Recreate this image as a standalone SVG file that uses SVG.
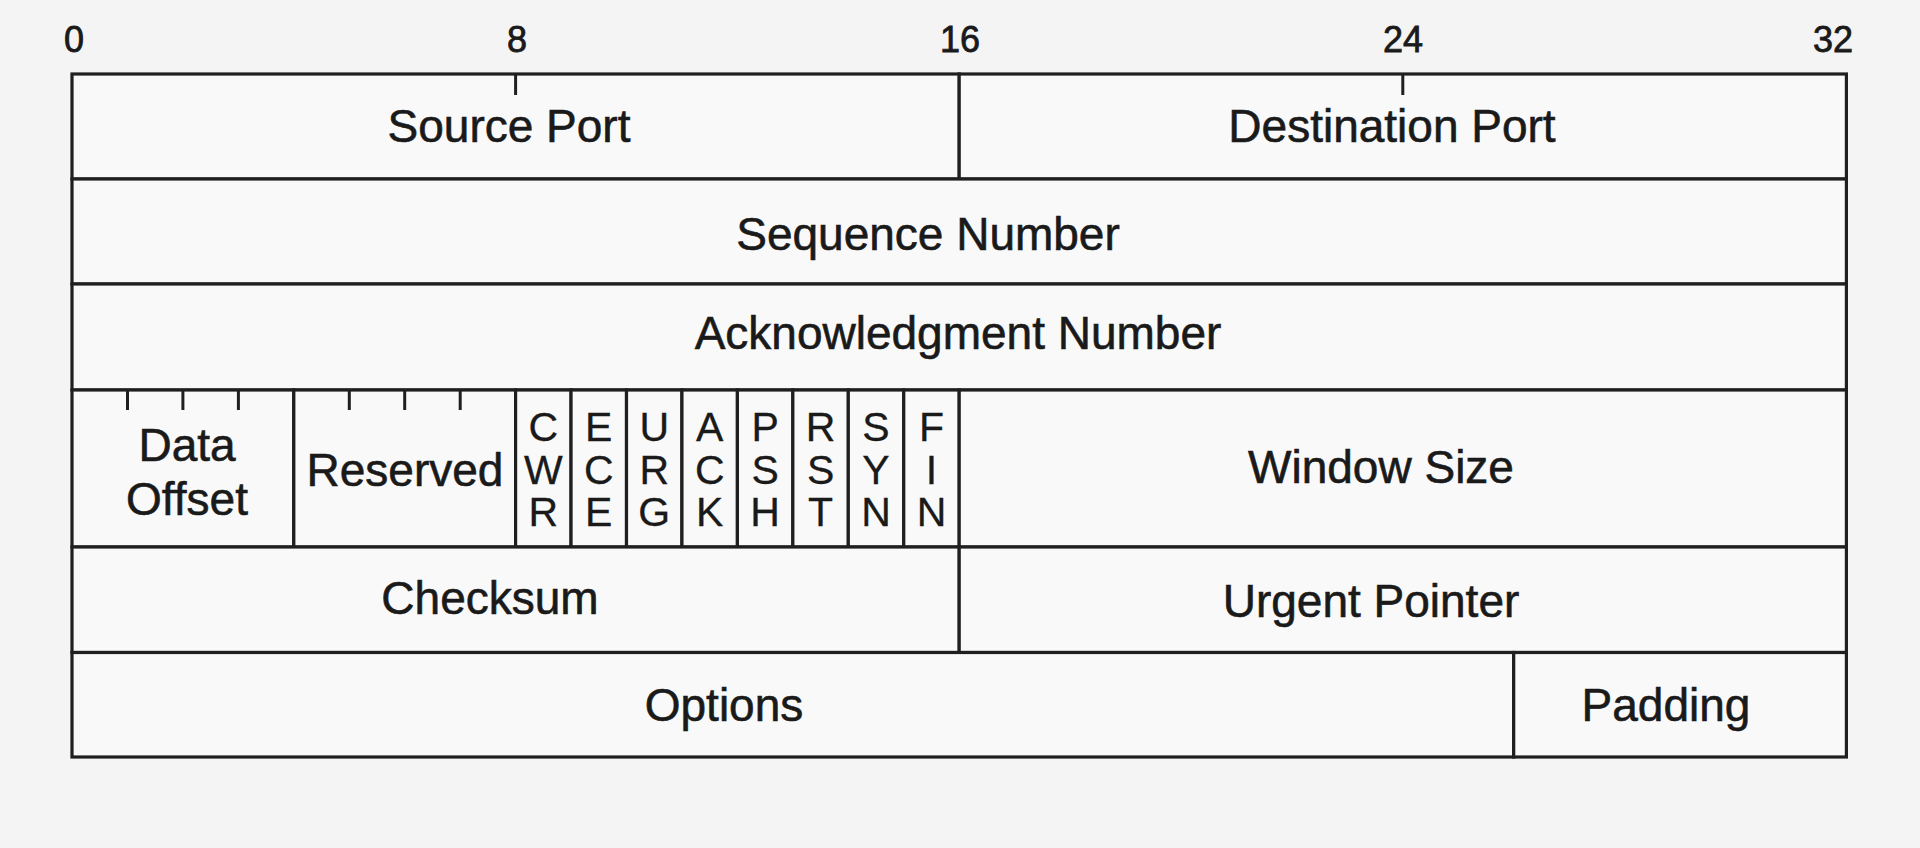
<svg xmlns="http://www.w3.org/2000/svg" width="1920" height="848" viewBox="0 0 1920 848">
  <style>
    .tk { stroke: #1f1f1f; stroke-width: 3; fill: none; }
    .cell { fill: #f9f9f9; stroke: #1f1f1f; stroke-width: 3.2; }
    .t { font-family: "Liberation Sans", Arial, sans-serif; font-size: 46px; fill: #1a1a1a; stroke: #1a1a1a; stroke-width: 0.6; text-anchor: middle; }
    .f { font-family: "Liberation Sans", Arial, sans-serif; font-size: 41px; fill: #1a1a1a; stroke: #1a1a1a; stroke-width: 0.3; text-anchor: middle; }
    .n { font-family: "Liberation Sans", Arial, sans-serif; font-size: 36px; fill: #1a1a1a; stroke: #1a1a1a; stroke-width: 0.8; text-anchor: middle; }
  </style>
  <rect x="0" y="0" width="1920" height="848" fill="#f4f4f4"/>

  <g id="bit-scale">
    <text class="n" x="74" y="52">0</text>
    <text class="n" x="517" y="52">8</text>
    <text class="n" x="960" y="52">16</text>
    <text class="n" x="1403" y="52">24</text>
    <text class="n" x="1833" y="52">32</text>
  </g>

  <g id="source-port">
    <rect class="cell" x="72" y="74" width="887.2" height="105"/>
    <text class="t" x="509" y="142">Source Port</text>
  </g>
  <g id="destination-port">
    <rect class="cell" x="959.2" y="74" width="887.2" height="105"/>
    <text class="t" x="1392" y="142">Destination Port</text>
  </g>
  <g id="sequence-number">
    <rect class="cell" x="72" y="179" width="1774.4" height="105"/>
    <text class="t" x="928" y="250">Sequence Number</text>
  </g>
  <g id="acknowledgment-number">
    <rect class="cell" x="72" y="284" width="1774.4" height="106"/>
    <text class="t" x="958" y="349">Acknowledgment Number</text>
  </g>
  <g id="data-offset">
    <rect class="cell" x="72" y="390" width="221.8" height="157"/>
    <text class="t" x="187" y="461"><tspan x="187" y="461">Data</tspan><tspan x="187" y="515">Offset</tspan></text>
  </g>
  <g id="reserved">
    <rect class="cell" x="293.8" y="390" width="221.8" height="157"/>
    <text class="t" x="405" y="486">Reserved</text>
  </g>
  <g id="flag-cwr">
    <rect class="cell" x="515.6" y="390" width="55.45" height="157"/>
    <text class="f"><tspan x="543.3" y="441">C</tspan><tspan x="543.3" y="484">W</tspan><tspan x="543.3" y="526">R</tspan></text>
  </g>
  <g id="flag-ece">
    <rect class="cell" x="571.05" y="390" width="55.45" height="157"/>
    <text class="f"><tspan x="598.8" y="441">E</tspan><tspan x="598.8" y="484">C</tspan><tspan x="598.8" y="526">E</tspan></text>
  </g>
  <g id="flag-urg">
    <rect class="cell" x="626.5" y="390" width="55.45" height="157"/>
    <text class="f"><tspan x="654.2" y="441">U</tspan><tspan x="654.2" y="484">R</tspan><tspan x="654.2" y="526">G</tspan></text>
  </g>
  <g id="flag-ack">
    <rect class="cell" x="681.95" y="390" width="55.45" height="157"/>
    <text class="f"><tspan x="709.7" y="441">A</tspan><tspan x="709.7" y="484">C</tspan><tspan x="709.7" y="526">K</tspan></text>
  </g>
  <g id="flag-psh">
    <rect class="cell" x="737.4" y="390" width="55.45" height="157"/>
    <text class="f"><tspan x="765.1" y="441">P</tspan><tspan x="765.1" y="484">S</tspan><tspan x="765.1" y="526">H</tspan></text>
  </g>
  <g id="flag-rst">
    <rect class="cell" x="792.85" y="390" width="55.45" height="157"/>
    <text class="f"><tspan x="820.6" y="441">R</tspan><tspan x="820.6" y="484">S</tspan><tspan x="820.6" y="526">T</tspan></text>
  </g>
  <g id="flag-syn">
    <rect class="cell" x="848.3" y="390" width="55.45" height="157"/>
    <text class="f"><tspan x="876" y="441">S</tspan><tspan x="876" y="484">Y</tspan><tspan x="876" y="526">N</tspan></text>
  </g>
  <g id="flag-fin">
    <rect class="cell" x="903.75" y="390" width="55.45" height="157"/>
    <text class="f"><tspan x="931.5" y="441">F</tspan><tspan x="931.5" y="484">I</tspan><tspan x="931.5" y="526">N</tspan></text>
  </g>
  <g id="window-size">
    <rect class="cell" x="959.2" y="390" width="887.2" height="157"/>
    <text class="t" x="1381" y="483">Window Size</text>
  </g>
  <g id="checksum">
    <rect class="cell" x="72" y="547" width="887.2" height="105.5"/>
    <text class="t" x="490" y="614">Checksum</text>
  </g>
  <g id="urgent-pointer">
    <rect class="cell" x="959.2" y="547" width="887.2" height="105.5"/>
    <text class="t" x="1371" y="617">Urgent Pointer</text>
  </g>
  <g id="options">
    <rect class="cell" x="72" y="652.5" width="1441.7" height="104.5"/>
    <text class="t" x="724" y="721">Options</text>
  </g>
  <g id="padding">
    <rect class="cell" x="1513.7" y="652.5" width="332.7" height="104.5"/>
    <text class="t" x="1666" y="721">Padding</text>
  </g>

  <g id="connectors">
    <line class="tk" x1="515.6" y1="74" x2="515.6" y2="95"/>
    <line class="tk" x1="1402.8" y1="74" x2="1402.8" y2="95"/>
    <line class="tk" x1="127.5" y1="390" x2="127.5" y2="410"/>
    <line class="tk" x1="182.9" y1="390" x2="182.9" y2="410"/>
    <line class="tk" x1="238.4" y1="390" x2="238.4" y2="410"/>
    <line class="tk" x1="349.3" y1="390" x2="349.3" y2="410"/>
    <line class="tk" x1="404.7" y1="390" x2="404.7" y2="410"/>
    <line class="tk" x1="460.2" y1="390" x2="460.2" y2="410"/>
  </g>
</svg>
